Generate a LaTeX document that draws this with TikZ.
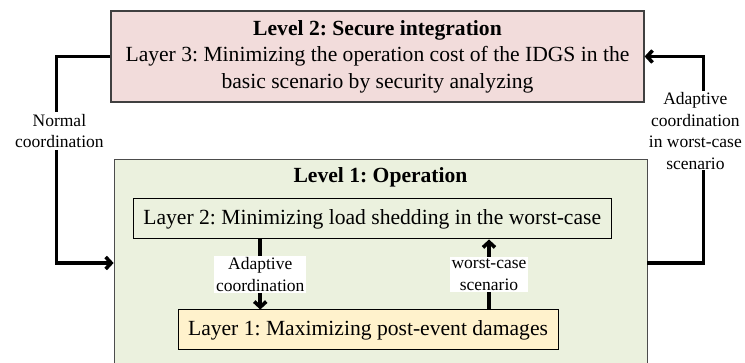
\documentclass[tikz,border=0pt]{standalone}
\usepackage{fontspec}
\setmainfont{Liberation Serif}
\usetikzlibrary{arrows.meta,calc}
\definecolor{levtwo}{HTML}{F2DCDB}
\definecolor{levone}{HTML}{EBF1DE}
\definecolor{layone}{HTML}{FFF2CC}
\begin{document}
\frenchspacing
\begin{tikzpicture}[x=1pt,y=-1pt,
		flow/.style={line width=3.6pt,-{Straight Barb[length=5.5pt,width=12pt]}},
		lbl/.style={fill=white,align=center,inner sep=2pt,font=\fontsize{17.5}{21.5}\selectfont},
		big/.style={font=\fontsize{21.6}{26.5}\selectfont}]
		%%%%% START %%%%%
		
		\useasboundingbox (0,0) rectangle (745,363);
		
		% level 2
		\node[big, draw=black!75, line width=1.2pt, fill=levtwo, minimum width=533pt, minimum height=91pt, align=center] (top) at (377.5,56.5)
		{\textbf{Level 2: Secure integration}\\Layer 3: Minimizing the operation cost of the IDGS in the\\basic scenario by security analyzing};
		
		% level 1
		\node[draw=black!70, line width=0.8pt, fill=levone, minimum width=533pt, minimum height=208pt] (low) at (380.5,263) {};
		\node[big, font=\fontsize{21.6}{26.5}\selectfont\bfseries] (lowtitle) at (380.5,177) {Level 1: Operation};
		
		\node[big, draw=black, line width=1pt, fill=levone, minimum width=477.5pt, minimum height=40pt] (lay2) at (372.25,219) {Layer 2: Minimizing load shedding in the worst-case};
		\node[big, draw=black, line width=1pt, fill=layone, minimum width=380pt, minimum height=40pt] (lay1) at (368,330) {Layer 1: Maximizing post-event damages};
		
		% outer loop
		\draw[flow] (top.west) -- ++(-54,0) |- node[lbl, pos=0.18, xshift=3pt] (nlab) {Normal\\coordination} (low.west);
		\draw[flow] (low.east) -- ++(56,0) |- node[lbl, pos=0.32, xshift=-8pt, inner sep=1pt] (alab) {Adaptive\\coordination\\in worst-case\\scenario} (top.east);
		
		% inner loop
		\draw[flow] ([xshift=-112pt]lay2.south) -- ([xshift=-112pt]lay2.south |- lay1.north) node[lbl, midway] (inlab) {Adaptive\\coordination};
		\draw[flow] ([xshift=121pt]lay1.north) -- ([xshift=121pt]lay1.north |- lay2.south) node[lbl, midway] (wclab) {worst-case\\scenario};
		
		%%%%% END %%%%%
	\end{tikzpicture}
\end{document}
